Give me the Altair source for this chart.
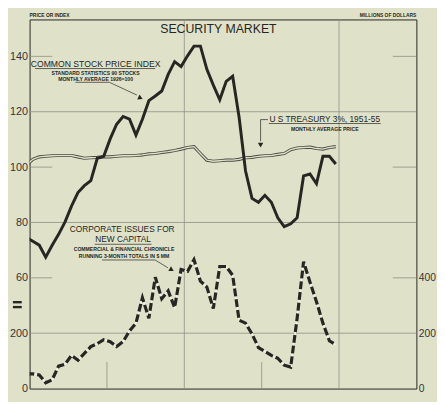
import altair as alt
import pandas as pd

# ---------------- data ----------------
MONTH_NAMES = ["Jan", "Feb", "Mar", "Apr", "May", "Jun",
               "Jul", "Aug", "Sep", "Oct", "Nov", "Dec"]
months = ["Dec 1934"] + [f"{m} {y}" for y in range(1935, 1939) for m in MONTH_NAMES]
month_number = list(range(-1, 48))          # months after Jan 1935

# Common stock price index (Standard Statistics, 90 stocks, 1926=100)
stock_index = [74.6, 73.2, 71.8, 67.5, 71.8, 75.7, 80.2, 85.9, 90.8, 93.3,
               95.1, 103.2, 103.9, 110.2, 115.5, 118.3, 117.3, 111.6, 117.3, 124.0,
               125.7, 127.5, 133.5, 138.1, 136.3, 140.2, 143.7, 143.7, 135.3, 129.6,
               124.3, 131.0, 132.8, 118.0, 98.6, 88.7, 87.3, 89.8, 87.3, 81.7,
               78.5, 79.5, 81.7, 96.8, 97.5, 94.0, 103.9, 103.9, 101.1]

# U.S. Treasury 3%, 1951-55, monthly average price
treasury_price = [100.7, 102.8, 103.7, 103.9, 104.1, 104.2, 104.2, 104.2, 103.7, 103.2,
                  103.4, 103.5, 103.7, 103.7, 103.9, 104.1, 104.1, 104.2, 104.4, 104.8,
                  104.9, 105.3, 105.6, 106.0, 106.5, 107.1, 107.4, 104.9, 102.5, 102.1,
                  102.3, 102.5, 102.5, 102.8, 103.4, 103.5, 103.9, 104.1, 104.2, 104.6,
                  104.9, 106.3, 106.9, 107.1, 107.2, 106.7, 106.5, 107.1, 107.4]

# Corporate issues for new capital, running 3-month totals, $ millions
corporate_issues = [52.9, 52.9, 49.4, 21.2, 31.7, 81.1, 88.2, 119.9, 102.3, 127.0,
                    151.7, 162.2, 176.4, 169.3, 151.7, 169.3, 208.1, 236.3, 328.0, 253.9,
                    402.1, 324.5, 352.7, 292.7, 430.3, 423.2, 465.6, 388.0, 366.8, 289.2,
                    440.9, 440.9, 409.1, 246.9, 236.3, 197.5, 148.1, 134.0, 119.9, 109.4,
                    84.6, 77.6, 253.9, 458.5, 384.4, 313.9, 236.3, 172.8, 158.7]

year_labels = [1935, 1936, 1937, 1938, 1939]
left_ticks = [140, 120, 100, 80, 60, 40, 20]      # 40 and 20 stand for $200 MM and 0 below the break
right_ticks = [0, 200, 400]
full_gridlines = [120, 80, 40]
short_gridlines = [140, 100, 60]
year_full_lines = [24, 48]
year_short_lines = [12, 36]

df = pd.DataFrame({
    "month": months,
    "t": [n + 0.5 for n in month_number],
    "stock": stock_index,
    "treasury": treasury_price,
    "issues": corporate_issues,
})

# ---------------- style ----------------
BG = "#dfe2c9"
INK = "#262622"
GRID = "#8e9085"
FONT = "Liberation Sans"
W, H = 394, 376

xs = alt.Scale(domain=[0, 60], nice=False, zero=False)
yl = alt.Scale(domain=[20, 153.333], nice=False, zero=False)
yr = alt.Scale(domain=[0, 1333.33], nice=False, zero=False)

x_axis = alt.Axis(values=[6, 18, 30, 42, 54],
                  labelExpr="'' + (1935 + floor(datum.value / 12))",
                  ticks=False, domain=False, grid=False, labelFontSize=6.5,
                  labelPadding=4, labelColor="#333", title=None)
left_axis = alt.Axis(values=left_ticks,
                     labelExpr="datum.value == 40 ? '200' : (datum.value == 20 ? '0' : datum.label)",
                     ticks=False, domain=False, grid=False, labelFontSize=11,
                     labelPadding=2, labelColor="#333", title=None)
right_axis = alt.Axis(values=right_ticks, orient="right", ticks=False, domain=False,
                      grid=False, labelFontSize=10.5, labelPadding=2,
                      labelColor="#333", title=None)

one = pd.DataFrame({"a": [0]})


def rx(r):
    return (r - 13) * W / 422


def ry(r):
    return r - 16


def txt(s, x, y, size, bold=False, align="center"):
    return alt.Chart(one).mark_text(
        text=s, fontSize=size, font=FONT, fontWeight="bold" if bold else "normal",
        align=align, baseline="middle", color=INK
    ).encode(x=alt.value(x), y=alt.value(y))


def seg(x1, y1, x2, y2, w=0.7, color=INK):
    return alt.Chart(one).mark_rule(color=color, strokeWidth=w).encode(
        x=alt.value(x1), y=alt.value(y1), x2=alt.value(x2), y2=alt.value(y2))


def head(x, y, angle):
    return alt.Chart(one).mark_point(
        shape="triangle-down", filled=True, size=30, color=INK, opacity=1, angle=angle
    ).encode(x=alt.value(x), y=alt.value(y))


# ---------------- grid ----------------
grid_full = alt.Chart(pd.DataFrame({"v": full_gridlines})).mark_rule(
    color=GRID, strokeWidth=0.8).encode(y=alt.Y("v:Q", scale=yl, axis=None))
short_df = pd.DataFrame({"v": short_gridlines})
grid_short_l = alt.Chart(short_df).mark_rule(color=GRID, strokeWidth=0.8).encode(
    y=alt.Y("v:Q", scale=yl, axis=None), x=alt.value(0), x2=alt.value(23))
grid_short_r = alt.Chart(short_df).mark_rule(color=GRID, strokeWidth=0.8).encode(
    y=alt.Y("v:Q", scale=yl, axis=None), x=alt.value(W - 24), x2=alt.value(W))
vgrid_full = alt.Chart(pd.DataFrame({"t": year_full_lines})).mark_rule(
    color=GRID, strokeWidth=0.8).encode(x=alt.X("t:Q", scale=xs, axis=None))
vgrid_short = alt.Chart(pd.DataFrame({"t": year_short_lines})).mark_rule(
    color=GRID, strokeWidth=0.8).encode(x=alt.X("t:Q", scale=xs, axis=None),
                                        y=alt.value(H - 27), y2=alt.value(H))

# ---------------- series ----------------
base = alt.Chart(df)
treas_outer = base.mark_line(color="#4a4a44", strokeWidth=3.2, clip=True).encode(
    x=alt.X("t:Q", scale=xs, axis=None), y=alt.Y("treasury:Q", scale=yl, axis=None))
treas_inner = base.mark_line(color=BG, strokeWidth=1.4, clip=True).encode(
    x=alt.X("t:Q", scale=xs, axis=None), y=alt.Y("treasury:Q", scale=yl, axis=None))

issues_under = base.mark_line(color="#f3f3e8", strokeWidth=1.6, clip=True).encode(
    x=alt.X("t:Q", scale=xs, axis=None), y=alt.Y("issues:Q", scale=yr, axis=None))
issues_dash = base.mark_line(color=INK, strokeWidth=3.2, strokeDash=[8, 3], clip=True).encode(
    x=alt.X("t:Q", scale=xs, axis=None), y=alt.Y("issues:Q", scale=yr, axis=right_axis))

stock = base.mark_line(color=INK, strokeWidth=3.0, strokeJoin="miter", clip=True).encode(
    x=alt.X("t:Q", scale=xs, axis=x_axis), y=alt.Y("stock:Q", scale=yl, axis=left_axis))

# ---------------- annotations ----------------
notes = [
    txt("SECURITY MARKET", rx(219), ry(26), 12.5),
    txt("PRICE OR INDEX", 0, -4, 5, bold=True, align="left"),
    txt("MILLIONS OF DOLLARS", W, -4, 5, bold=True, align="right"),
    txt("COMMON STOCK PRICE INDEX", rx(85), ry(61), 8.8),
    seg(rx(19), ry(66), rx(150), ry(66)),
    txt("STANDARD STATISTICS  90 STOCKS", rx(85), ry(71), 5.2, bold=True),
    txt("MONTHLY AVERAGE  1926=100", rx(85), ry(77), 5.2, bold=True),
    seg(rx(63), ry(80), rx(100), ry(80)),
    seg(rx(100), ry(80), rx(130), ry(93)),
    head(rx(134), ry(96), 295),
    txt("U S TREASURY 3%, 1951-55", rx(335), ry(117), 8.5),
    seg(rx(274), ry(122), rx(396), ry(122)),
    seg(rx(265), ry(118), rx(273), ry(118)),
    seg(rx(265), ry(118), rx(265), ry(140)),
    head(rx(265), ry(144), 0),
    txt("MONTHLY AVERAGE PRICE", rx(335), ry(128), 5.2, bold=True),
    txt("CORPORATE ISSUES FOR", rx(114), ry(230), 8.5),
    txt("NEW CAPITAL", rx(115), ry(240), 8.5),
    seg(rx(84), ry(245), rx(146), ry(245)),
    txt("COMMERCIAL & FINANCIAL CHRONICLE", rx(116), ry(250), 5.2, bold=True),
    txt("RUNNING 3-MONTH TOTALS IN $ MM", rx(116), ry(257), 5.2, bold=True),
    seg(rx(92), ry(261), rx(150), ry(261)),
    seg(rx(150), ry(261), rx(164), ry(269)),
    head(rx(168), ry(271), 300),
    seg(-17, ry(304), -8, ry(304), w=2.4),
    seg(-17, ry(309), -8, ry(309), w=2.4),
]

chart = alt.layer(
    grid_full, grid_short_l, grid_short_r, vgrid_full, vgrid_short,
    treas_outer, treas_inner, issues_under, issues_dash, stock, *notes
).resolve_scale(y="independent").properties(
    width=W, height=H,
    background=BG,
    autosize=alt.AutoSizeParams(type="none"),
    padding={"left": 22, "top": 8, "right": 21, "bottom": 10},
).configure_view(stroke=INK, strokeWidth=1).configure_axis(labelFont=FONT)

chart.save("out.html", embed_options={"renderer": "svg", "actions": False})
